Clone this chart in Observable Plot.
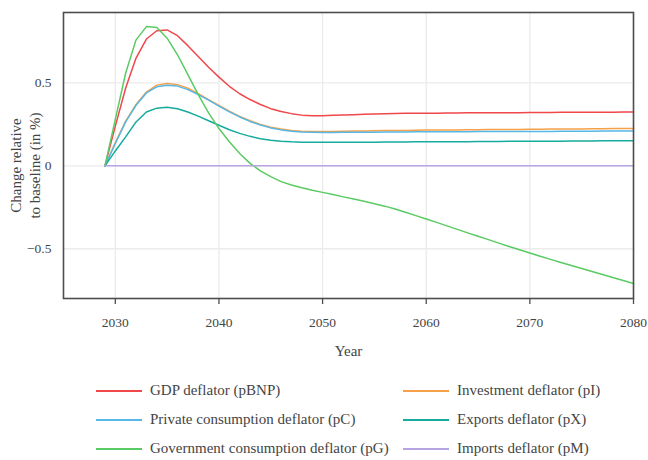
<!DOCTYPE html>
<html>
<head>
<meta charset="utf-8">
<script src="https://cdn.jsdelivr.net/npm/d3@7"></script>
<script src="https://cdn.jsdelivr.net/npm/@observablehq/plot@0.6"></script>
<style>
  body { margin: 0; background: #fff; font-family: "Liberation Serif", Tinos, "Times New Roman", Times, "Nimbus Roman", "DejaVu Serif", serif; }
  #chart svg { display: block; }
  #legend {
    display: grid;
    grid-template-columns: 307px auto;
    grid-auto-rows: 29px;
    padding-left: 96px;
    margin-top: 6px;
    color: #444;
    font-size: 15px;
  }
  .item { display: flex; align-items: center; white-space: nowrap; }
  .sw { width: 46px; height: 2px; margin-right: 8px; flex: none; }
</style>
</head>
<body>
<div id="chart"></div>
<div id="legend"></div>
<script>
// Years simulated (annual steps)
const years = [2029, 2030, 2031, 2032, 2033, 2034, 2035, 2036, 2037, 2038, 2039,
  2040, 2041, 2042, 2043, 2044, 2045, 2046, 2047, 2048, 2049,
  2050, 2051, 2052, 2053, 2054, 2055, 2056, 2057, 2058, 2059,
  2060, 2061, 2062, 2063, 2064, 2065, 2066, 2067, 2068, 2069,
  2070, 2071, 2072, 2073, 2074, 2075, 2076, 2077, 2078, 2079, 2080];

// Deflator responses, change relative to baseline (in %)
const pBNP = [0, 0.24, 0.47, 0.65, 0.765, 0.815, 0.82, 0.785, 0.725, 0.66, 0.595,
  0.535, 0.48, 0.435, 0.40, 0.37, 0.345, 0.328, 0.315, 0.306, 0.303,
  0.303, 0.305, 0.307, 0.309, 0.311, 0.313, 0.315, 0.316, 0.317, 0.318,
  0.318, 0.318, 0.319, 0.319, 0.320, 0.320, 0.320, 0.321, 0.321, 0.321,
  0.322, 0.322, 0.322, 0.323, 0.323, 0.323, 0.324, 0.324, 0.324, 0.325, 0.325];

const pI = [0, 0.14, 0.27, 0.37, 0.445, 0.487, 0.497, 0.49, 0.468, 0.435, 0.40,
  0.365, 0.33, 0.298, 0.272, 0.25, 0.233, 0.222, 0.214, 0.209, 0.207,
  0.207, 0.208, 0.209, 0.210, 0.211, 0.212, 0.213, 0.214, 0.214, 0.215,
  0.216, 0.216, 0.217, 0.217, 0.218, 0.218, 0.219, 0.219, 0.220, 0.220,
  0.221, 0.221, 0.222, 0.222, 0.223, 0.223, 0.224, 0.224, 0.225, 0.225, 0.226];

const pC = [0, 0.135, 0.265, 0.365, 0.44, 0.477, 0.486, 0.481, 0.46, 0.43, 0.396,
  0.36, 0.326, 0.295, 0.268, 0.246, 0.229, 0.217, 0.209, 0.204, 0.202,
  0.201, 0.201, 0.202, 0.202, 0.203, 0.203, 0.204, 0.204, 0.204, 0.205,
  0.205, 0.205, 0.206, 0.206, 0.206, 0.207, 0.207, 0.207, 0.207, 0.208,
  0.208, 0.208, 0.208, 0.209, 0.209, 0.209, 0.209, 0.210, 0.210, 0.210, 0.210];

const pX = [0, 0.09, 0.175, 0.265, 0.325, 0.348, 0.353, 0.345, 0.325, 0.30, 0.272,
  0.245, 0.218, 0.196, 0.178, 0.164, 0.155, 0.149, 0.145, 0.143, 0.142,
  0.142, 0.142, 0.142, 0.143, 0.143, 0.143, 0.144, 0.144, 0.144, 0.145,
  0.145, 0.145, 0.146, 0.146, 0.146, 0.147, 0.147, 0.147, 0.148, 0.148,
  0.148, 0.149, 0.149, 0.149, 0.150, 0.150, 0.150, 0.151, 0.151, 0.151, 0.152];

const pG = [0, 0.28, 0.56, 0.76, 0.84, 0.835, 0.77, 0.67, 0.55, 0.43, 0.32,
  0.225, 0.145, 0.075, 0.015, -0.03, -0.065, -0.095, -0.115, -0.132, -0.147,
  -0.16, -0.173, -0.187, -0.2, -0.214, -0.228, -0.243, -0.26, -0.28, -0.30,
  -0.32, -0.341, -0.362, -0.383, -0.404, -0.425, -0.445, -0.466, -0.486, -0.506,
  -0.526, -0.545, -0.564, -0.583, -0.601, -0.619, -0.637, -0.655, -0.673, -0.691, -0.71];

const pM = [0, 0, 0, 0, 0, 0, 0, 0, 0, 0, 0,
  0, 0, 0, 0, 0, 0, 0, 0, 0, 0,
  0, 0, 0, 0, 0, 0, 0, 0, 0, 0,
  0, 0, 0, 0, 0, 0, 0, 0, 0, 0,
  0, 0, 0, 0, 0, 0, 0, 0, 0, 0, 0];

const seriesNames = [
  "GDP deflator (pBNP)",
  "Investment deflator (pI)",
  "Private consumption deflator (pC)",
  "Exports deflator (pX)",
  "Government consumption deflator (pG)",
  "Imports deflator (pM)"
];
const seriesValues = [pBNP, pI, pC, pX, pG, pM];
const seriesColors = ["#f0474b", "#f7a04a", "#55b8e6", "#16ab9c", "#5acb63", "#b7a5e3"];

const xTicks = [2030, 2040, 2050, 2060, 2070, 2080];
const yTicks = [-0.5, 0, 0.5];

// Long table: one row per series and year
const rows = seriesNames.flatMap((name, i) =>
  years.map((year, j) => ({series: name, year, value: seriesValues[i][j]}))
);

const fmtY = d => d < 0 ? "\u2212" + Math.abs(d) : String(d);
const ink = "#444";
const serif = "'Liberation Serif', Tinos, 'Times New Roman', Times, 'Nimbus Roman', 'DejaVu Serif', serif";

const chart = Plot.plot({
  width: 648,
  height: 370,
  marginTop: 12,
  marginRight: 15,
  marginBottom: 72,
  marginLeft: 63,
  style: {fontFamily: serif, fontSize: "13.5px", color: ink, background: "#fff"},
  x: {domain: [2025, 2080]},
  y: {domain: [-0.80, 0.925]},
  color: {domain: seriesNames, range: seriesColors},
  marks: [
    Plot.gridX(xTicks, {stroke: "#ebebeb", strokeOpacity: 1, strokeWidth: 1.3}),
    Plot.gridY(yTicks, {stroke: "#ebebeb", strokeOpacity: 1, strokeWidth: 1.3}),
    Plot.lineY(rows, {x: "year", y: "value", z: "series", stroke: "series", strokeWidth: 1.5}),
    Plot.frame({stroke: "#4d4d4d", strokeWidth: 1.6}),
    Plot.axisX(xTicks, {tickSize: 6, tickPadding: 13, tickFormat: "d", label: null, stroke: "#4d4d4d", strokeWidth: 1.3}),
    Plot.axisY(yTicks, {tickSize: 0, tickPadding: 12, tickFormat: fmtY, label: null}),
    Plot.text(["Year"], {frameAnchor: "bottom", dy: 57, fontSize: 15, fill: ink}),
    Plot.text(["Change relative\nto baseline (in %)"], {
      frameAnchor: "left", textAnchor: "middle", dx: -39, dy: 10, rotate: -90,
      lineHeight: 1.3, fontSize: 15, fill: ink
    })
  ]
});
document.getElementById("chart").append(chart);

// Legend below the plot, two columns
const legend = d3.select("#legend");
seriesNames.forEach((name, i) => {
  const item = legend.append("div").attr("class", "item");
  item.append("span").attr("class", "sw").style("background", seriesColors[i]);
  item.append("span").text(name);
});
</script>
</body>
</html>
